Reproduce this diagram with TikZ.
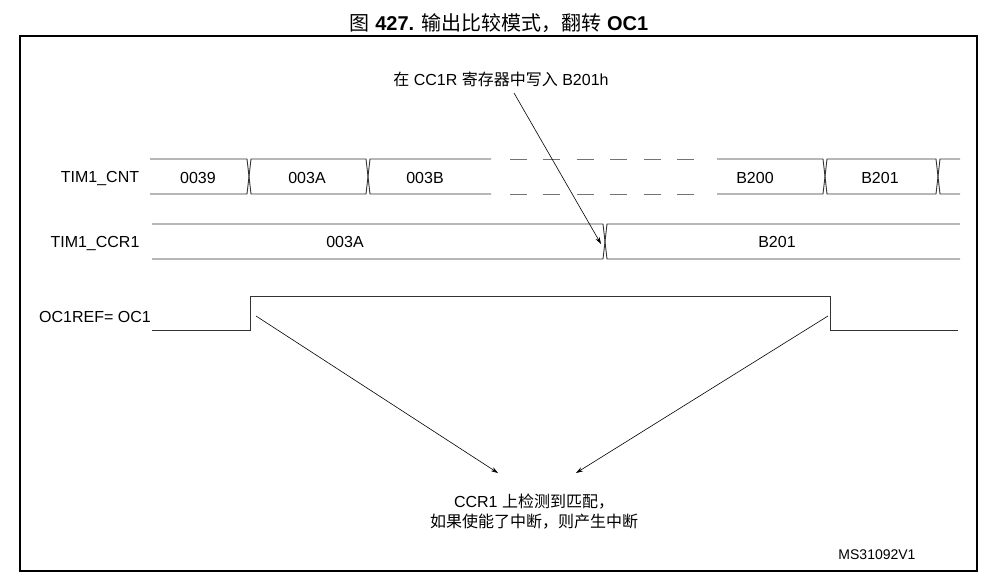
\documentclass[tikz,border=0pt]{standalone}
\usepackage{fontspec}
\setmainfont{Liberation Sans}
\newfontfamily\cjk{Noto Sans CJK SC}
\usetikzlibrary{arrows.meta}

\begin{document}
\begin{tikzpicture}[x=1pt, y=-1pt, font=\fontsize{16}{20}\selectfont,
		sig/.style={black!80, line width=0.9pt},
		gap/.style={black!55, line width=0.9pt, dash pattern=on 17pt off 16.4pt},
		note/.style={-{Stealth[length=7pt, width=4.5pt]}, line width=0.6pt}]
			\useasboundingbox (0,0) rectangle (991,580);
			\draw[line width=1.3pt] (20,36) rectangle (977,571);

			\node (title) at (499,23) {\fontsize{20}{24}\selectfont{\cjk 图} \textbf{427.} {\cjk 输出比较模式，翻转} \textbf{OC1}};

			% signal names
			\node (cnt) at (100,179) {TIM1\_CNT};
			\node (ccr) at (95,244) {TIM1\_CCR1};
			\node (oc) at (95,317) {OC1REF= OC1};

			% bus values
			\node (v0039) at (198,178) {0039};
			\node (v003a) at (307,178) {003A};
			\node (v003b) at (425,178) {003B};
			\node (vb200) at (755,178) {B200};
			\node (vb201) at (880,178) {B201};
			\node (c003a) at (345,242) {003A};
			\node (cb201) at (777,242) {B201};

			% notes
			\node (wr) at (501,79) {{\cjk 在} CC1R {\cjk 寄存器中写入} B201h};
			\node[align=center] (match) at (534,512) {CCR1 {\cjk 上检测到匹配，}\\{\cjk 如果使能了中断，则产生中断}};
			\node (id) at (877,555) {\fontsize{14}{16}\selectfont MS31092V1};

			\coordinate (wrtail) at (514,93);
			\coordinate (ccrx) at (601,244);
			\coordinate (uptail) at (256,316);
			\coordinate (dntail) at (828,316);
			\coordinate (hitl) at (498,473);
			\coordinate (hitr) at (576,473);

			% TIM1_CNT
			\draw[sig] (150,159) -- (247,159) -- (251,194) -- (366,194) -- (370,159) -- (491,159);
			\draw[sig] (150,194) -- (247,194) -- (251,159) -- (366,159) -- (370,194) -- (491,194);
			\draw[gap] (510,159) -- (695,159);
			\draw[gap] (510,194) -- (695,194);
			\draw[sig] (717,159) -- (823,159) -- (827,194) -- (936,194) -- (940,159) -- (960,159);
			\draw[sig] (717,194) -- (823,194) -- (827,159) -- (936,159) -- (940,194) -- (960,194);

			% TIM1_CCR1
			\draw[sig] (152,224) -- (603,224) -- (607,259) -- (960,259);
			\draw[sig] (152,259) -- (603,259) -- (607,224) -- (960,224);

			% OC1REF
			\draw[sig] (152,330) -- (250,330) -- (250,296) -- (830,296) -- (830,330) -- (958,330);

			\draw[note] (wrtail) -- (ccrx);
			\draw[note] (uptail) -- (hitl);
			\draw[note] (dntail) -- (hitr);

		\end{tikzpicture}
\end{document}
